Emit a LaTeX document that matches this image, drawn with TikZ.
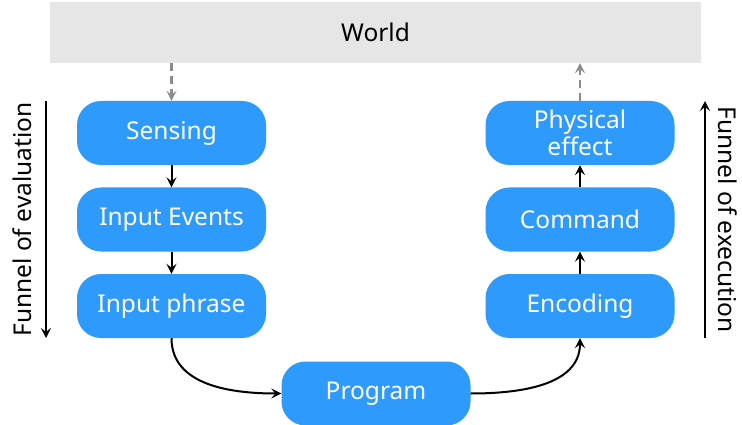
\documentclass[tikz,border=0pt]{standalone}
\usepackage{fontspec}
\setmainfont{Noto Sans}
\usetikzlibrary{arrows.meta}
\definecolor{boxblue}{HTML}{2E9AFB}
\definecolor{worldgray}{HTML}{E6E6E6}
\definecolor{dashgray}{HTML}{8C8C8C}
\tikzset{
  blockbox/.style={fill=boxblue, text=white, rounded corners=24pt, minimum width=189pt, minimum height=64pt, inner sep=0pt, align=center, font=\fontsize{24.5}{27}\selectfont},
  flow/.style={-{Stealth[length=10pt,width=10pt,inset=4pt]}, line width=2pt, black},
  dashflow/.style={-{Stealth[length=10pt,width=10pt,inset=4pt]}, line width=2.2pt, dashgray, dash pattern=on 8pt off 5pt},
  sidelabel/.style={font=\fontsize{24.5}{27}\selectfont, inner sep=0pt}
}
\begin{document}
\begin{tikzpicture}[x=1pt,y=-1pt]
\useasboundingbox (0,0) rectangle (742,425);
\node[fill=worldgray, minimum width=651pt, minimum height=61pt, inner sep=0pt, font=\fontsize{24.5}{27}\selectfont] (world) at (375.5,32.5) {World};

\node[blockbox] (sens) at (171.5,133) {Sensing};
\node[blockbox] (ie) at (171.5,219.5) {Input Events};
\node[blockbox] (ip) at (171.5,306) {Input phrase};

\node[blockbox] (pe) at (580,133) {Physical\\effect};
\node[blockbox] (cmd) at (580,219.5) {Command};
\node[blockbox] (enc) at (580,306) {Encoding};

\node[blockbox] (prog) at (376,393.5) {Program};

\draw[dashflow] (world.south -| sens.north) -- (sens.north);
\draw[dashflow] (pe.north) -- (world.south -| pe.north);

\draw[flow] (sens) -- (ie);
\draw[flow] (ie) -- (ip);
\draw[flow] (enc) -- (cmd);
\draw[flow] (cmd) -- (pe);

\draw[flow] (ip.south) to[out=-90,in=180] (prog.west);
\draw[flow] (prog.east) to[out=0,in=-90] (enc.south);

\coordinate (evtop) at (46,101);
\coordinate (evbot) at (46,338);
\draw[flow] (evtop) -- (evbot);
\node[sidelabel, rotate=90] (evlab) at (22,219.5) {Funnel of evaluation};

\coordinate (exbot) at (705,338);
\coordinate (extop) at (705,101);
\draw[flow] (exbot) -- (extop);
\node[sidelabel, rotate=-90] (exlab) at (728,219.5) {Funnel of execution};
\end{tikzpicture}
\end{document}
